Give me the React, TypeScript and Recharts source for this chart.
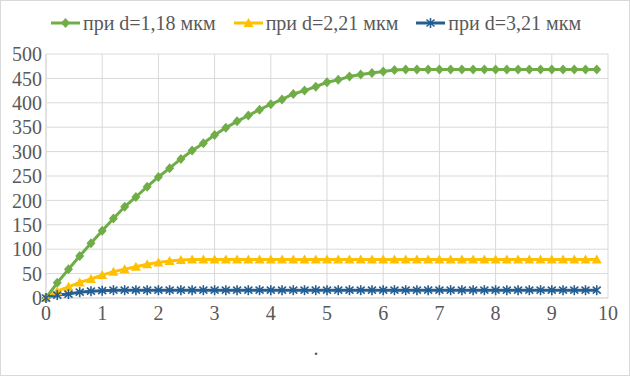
import { LineChart, Line, XAxis, YAxis, CartesianGrid, Legend } from 'recharts';

const xValues = [
  0, 0.2, 0.4, 0.6, 0.8, 1, 1.2, 1.4, 1.6, 1.8, 2, 2.2, 2.4, 2.6, 2.8, 3, 3.2, 3.4, 3.6, 3.8,
  4, 4.2, 4.4, 4.6, 4.8, 5, 5.2, 5.4, 5.6, 5.8, 6, 6.2, 6.4, 6.6, 6.8, 7, 7.2, 7.4, 7.6, 7.8,
  8, 8.2, 8.4, 8.6, 8.8, 9, 9.2, 9.4, 9.6, 9.8,
];

const d118 = [
  0, 31, 59, 86, 112, 138, 163, 187, 207, 228, 248, 266, 285, 302, 317, 334, 349, 362, 374, 386,
  397, 407, 418, 425, 433, 442, 447, 454, 458, 461, 464, 467, 468, 468, 468, 468, 468, 468, 468, 468,
  468, 468, 468, 468, 468, 468, 468, 468, 468, 468,
];

const d221 = [
  0, 14, 23, 32, 39, 47, 54, 59, 64, 69, 73, 76, 78, 79, 79, 79, 79, 79, 79, 79,
  79, 79, 79, 79, 79, 79, 79, 79, 79, 79, 79, 79, 79, 79, 79, 79, 79, 79, 79, 79,
  79, 79, 79, 79, 79, 79, 79, 79, 79, 79,
];

const d321 = [
  0, 6, 8, 12, 14, 15, 16, 16, 16, 16, 16, 16, 16, 16, 16, 16, 16, 16, 16, 16,
  16, 16, 16, 16, 16, 16, 16, 16, 16, 16, 16, 16, 16, 16, 16, 16, 16, 16, 16, 16,
  16, 16, 16, 16, 16, 16, 16, 16, 16, 16,
];

const xTicks = [0, 1, 2, 3, 4, 5, 6, 7, 8, 9, 10];
const yTicks = [0, 50, 100, 150, 200, 250, 300, 350, 400, 450, 500];

const seriesNames = ['при d=1,18 мкм', 'при d=2,21 мкм', 'при d=3,21 мкм'];
const seriesKeys = ['a', 'b', 'c'];
const colors = ['#70AD47', '#FFC000', '#255E91'];

const data = xValues.map((x, i) => ({ x, a: d118[i], b: d221[i], c: d321[i] }));

const FONT = "'Times New Roman', 'Liberation Serif', Tinos, 'DejaVu Serif', serif";

const Marker = ({ cx, cy, kind }: { cx?: number; cy?: number; kind: number }) => {
  if (cx == null || cy == null) return null;
  if (kind === 0) {
    return <polygon points={`${cx},${cy - 5} ${cx + 4.5},${cy} ${cx},${cy + 5} ${cx - 4.5},${cy}`} fill={colors[0]} />;
  }
  if (kind === 1) {
    return <polygon points={`${cx},${cy - 5} ${cx + 5},${cy + 4} ${cx - 5},${cy + 4}`} fill={colors[1]} />;
  }
  return (
    <g stroke={colors[2]} strokeWidth={1.6}>
      <line x1={cx} y1={cy - 5} x2={cx} y2={cy + 5} />
      <line x1={cx - 4} y1={cy - 3.5} x2={cx + 4} y2={cy + 3.5} />
      <line x1={cx - 4} y1={cy + 3.5} x2={cx + 4} y2={cy - 3.5} />
    </g>
  );
};

const LegendContent = () => (
  <div style={{ display: 'flex', justifyContent: 'center', fontFamily: FONT, fontSize: 20, color: '#595959', lineHeight: '24px' }}>
    {seriesNames.map((name, i) => (
      <div key={name} style={{ display: 'flex', alignItems: 'center', marginRight: i < 2 ? 18 : 0 }}>
        <svg width={29} height={14}>
          <line x1={0} y1={7} x2={29} y2={7} stroke={colors[i]} strokeWidth={3} />
          <Marker cx={14.5} cy={7} kind={i} />
        </svg>
        <span style={{ marginLeft: 3 }}>{name}</span>
      </div>
    ))}
  </div>
);

export default function App() {
  return (
    <div style={{ position: 'absolute', left: 0, top: 0, width: 630, height: 376, border: '1px solid #d9d9d9', boxSizing: 'border-box', background: '#fff', fontFamily: FONT }}>
      <LineChart width={630} height={376} data={data} margin={{ top: 29, right: 23, bottom: 20, left: -1 }} style={{ fontFamily: FONT }}>
        <CartesianGrid stroke="#d9d9d9" strokeWidth={1} />
        <XAxis
          dataKey="x"
          type="number"
          domain={[0, 10]}
          ticks={xTicks}
          interval={0}
          height={59}
          axisLine={{ stroke: '#d9d9d9' }}
          tickLine={false}
          tickSize={0}
          tickMargin={8}
          tick={{ fill: '#595959', fontSize: 20, fontFamily: FONT }}
          label={{ value: '.', position: 'insideTop', offset: 43, dx: -11, fill: '#595959', fontSize: 20, fontFamily: FONT }}
        />
        <YAxis
          type="number"
          domain={[0, 500]}
          ticks={yTicks}
          interval={0}
          width={46}
          axisLine={{ stroke: '#d9d9d9' }}
          tickLine={false}
          tickSize={0}
          tickMargin={4}
          tick={{ fill: '#595959', fontSize: 20, fontFamily: FONT }}
        />
        <Legend verticalAlign="top" content={<LegendContent />} wrapperStyle={{ top: 10, left: 0, width: 630 }} />
        {seriesKeys.map((key, i) => (
          <Line
            key={key}
            type="linear"
            dataKey={key}
            name={seriesNames[i]}
            stroke={colors[i]}
            strokeWidth={3}
            dot={(props: any) => <Marker key={`${key}-${props.index}`} cx={props.cx} cy={props.cy} kind={i} />}
            activeDot={false}
            isAnimationActive={false}
          />
        ))}
      </LineChart>
    </div>
  );
}
